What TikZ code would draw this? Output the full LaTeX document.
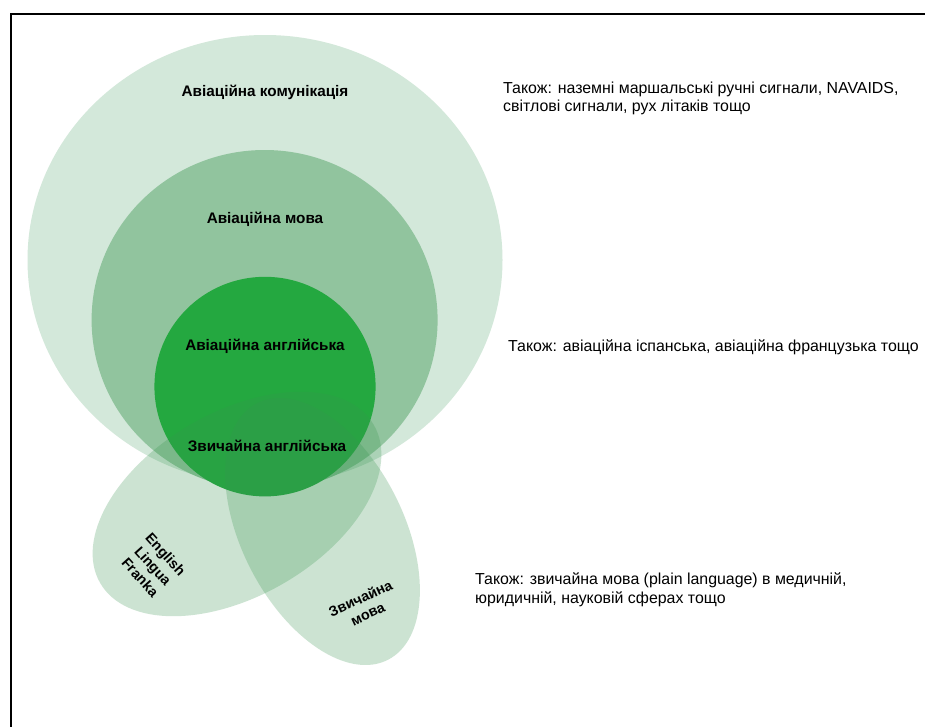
\documentclass[tikz,border=0pt]{standalone}
\usepackage{fontspec}
\setmainfont{Liberation Sans}
\definecolor{outerc}{HTML}{D3E8DA}
\definecolor{midc}{HTML}{91C49E}
\definecolor{innerc}{HTML}{24A840}
\definecolor{lowc}{RGB}{55,149,79}
\tikzset{
  lowell/.style={fill=lowc, fill opacity=0.255},
  lbl/.style={font=\fontsize{15.3}{17}\selectfont\bfseries, inner sep=0pt, anchor=base},
  note/.style={font=\fontsize{15.9}{18.5}\selectfont, inner sep=0pt, anchor=base west, align=left},
  ellbl/.style={font=\fontsize{14.3}{17}\selectfont\bfseries, inner sep=0pt, align=center},
}
\begin{document}
\begin{tikzpicture}[x=1pt,y=-1pt]
\useasboundingbox (0,0) rectangle (925,726);
\fill[white] (0,0) rectangle (925,726);
% frame
\draw[line width=2pt] (11,727) -- (11,13.5) -- (926,13.5);
% nested circles
\fill[outerc] (265,260) ellipse [x radius=237.5pt, y radius=225pt];
\fill[midc] (264.6,320) ellipse [x radius=173pt, y radius=170pt];
\fill[innerc] (265,386.6) ellipse [x radius=110.6pt, y radius=109.8pt];
% lower ellipses
\fill[lowell, rotate around={30:(237,504)}] (237,504) ellipse [x radius=158pt, y radius=92pt];
\fill[lowell, rotate around={-63:(322.5,531.5)}] (322.5,531.5) ellipse [x radius=144pt, y radius=81pt];
% labels
\node[lbl] (comm) at (265,96.7) {Авіаційна комунікація};
\node[lbl] (lang) at (265,223.3) {Авіаційна мова};
\node[lbl] (aveng) at (265,350) {Авіаційна англійська};
\node[lbl] (plaineng) at (267,451.7) {Звичайна англійська};
\node[ellbl, rotate=-48] (elf) at (153,566) {English\\Lingua\\Franka};
\node[ellbl, rotate=25] (plain) at (364,606) {Звичайна\\мова};
% notes
\node[note] (n1) at (503,111.5) {Також: наземні маршальські ручні сигнали, NAVAIDS,\\світлові сигнали, рух літаків тощо};
\node[note] (n2) at (508,351.7) {Також: авіаційна іспанська, авіаційна французька тощо};
\node[note] (n3) at (475,603) {Також: звичайна мова (plain language) в медичній,\\юридичній, науковій сферах тощо};
\end{tikzpicture}
\end{document}
